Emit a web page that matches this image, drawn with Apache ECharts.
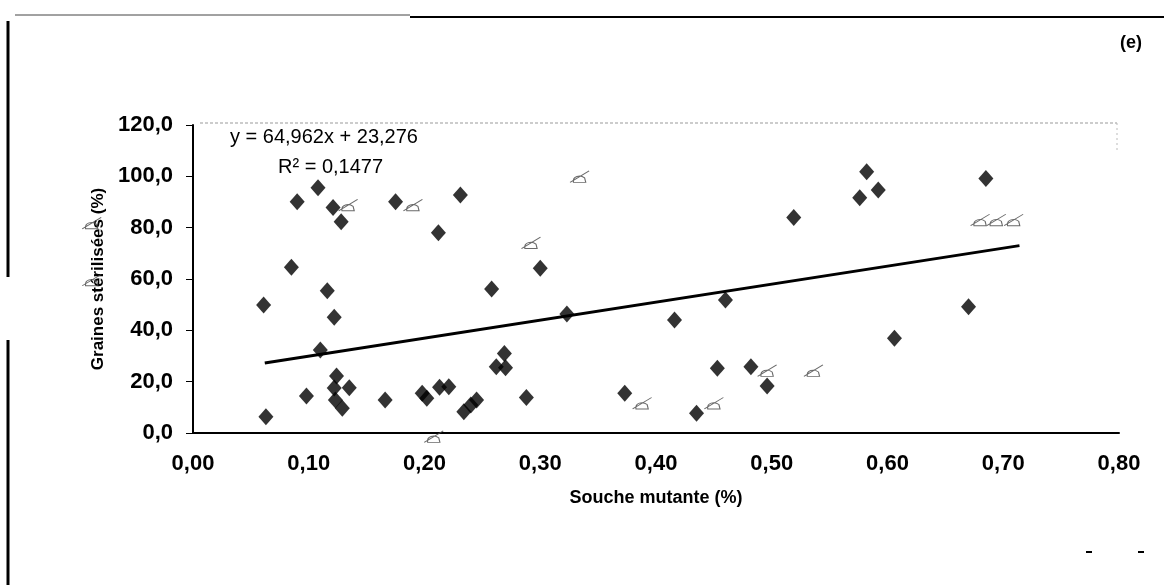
<!DOCTYPE html>
<html>
<head>
<meta charset="utf-8">
<script src="https://cdn.jsdelivr.net/npm/echarts@6/dist/echarts.min.js"></script>
<style>
html,body{margin:0;padding:0;background:#fff;}
#chart{width:1164px;height:585px;}
</style>
</head>
<body>
<div id="chart"></div>
<script>
// Souche mutante (%) vs Graines stérilisées (%)
const diamondX = [0.108,0.090,0.121,0.128,0.175,0.231,0.212,0.085,0.116,0.061,0.122,0.110,0.063,0.098,0.124,0.122,0.135,0.123,0.129,0.166,0.198,0.202,0.213,0.221,0.234,0.240,0.245,0.300,0.258,0.582,0.576,0.592,0.519,0.460,0.323,0.416,0.269,0.262,0.270,0.288,0.373,0.435,0.453,0.482,0.496,0.685,0.670,0.606];
const diamondY = [95.6,90.1,87.9,82.3,90.1,92.7,78.0,64.6,55.4,49.9,45.1,32.3,6.3,14.4,22.2,17.5,17.6,12.9,9.6,12.9,15.5,13.5,17.8,18.0,8.3,10.9,12.9,64.2,56.1,101.8,91.7,94.7,84.0,51.8,46.4,44.0,31.0,25.8,25.4,13.8,15.5,7.7,25.2,25.8,18.3,99.2,49.2,36.9];
const crossX = [0.134,0.190,0.334,0.292,0.208,0.388,0.450,0.496,0.536,0.680,0.694,0.709,-0.0875,-0.0875];
const crossY = [88.8,88.8,99.9,74.1,-1.4,11.6,11.6,24.3,24.3,83.0,83.0,83.0,81.8,59.6];
const trendX = [0.062,0.714];
const trendY = [27.3,73.0];
const xTickLabels = ['0,00','0,10','0,20','0,30','0,40','0,50','0,60','0,70','0,80'];
const yTickLabels = ['0,0','20,0','40,0','60,0','80,0','100,0','120,0'];
const equationText = 'y = 64,962x + 23,276';
const r2Text = 'R² = 0,1477';
const panelLabel = '(e)';

const zip = (a,b) => a.map((v,i)=>[v,b[i]]);
const FONT = 'Liberation Sans, Arial, sans-serif';

const chart = echarts.init(document.getElementById('chart'), null, {renderer:'canvas'});
chart.setOption({
  backgroundColor:'#fff',
  animation:false,
  grid:{left:193,right:45,top:125,bottom:152},
  xAxis:{
    type:'value',min:0,max:0.8,interval:0.1,
    name:'Souche mutante (%)',nameLocation:'middle',nameGap:56,
    nameTextStyle:{fontFamily:FONT,fontWeight:'bold',fontSize:18,color:'#000'},
    axisLine:{show:true,onZero:false,lineStyle:{color:'#000',width:2}},
    axisTick:{show:false},
    splitLine:{show:false},
    axisLabel:{fontFamily:FONT,fontSize:22,fontWeight:'bold',color:'#000',margin:20,
      formatter:(v)=>xTickLabels[Math.round(v*10)]}
  },
  yAxis:{
    type:'value',min:0,max:120,interval:20,
    name:'Graines stérilisées (%)',nameLocation:'middle',nameGap:86,nameRotate:90,
    nameTextStyle:{fontFamily:FONT,fontWeight:'bold',fontSize:17,color:'#000'},
    axisLine:{show:true,onZero:false,lineStyle:{color:'#000',width:2}},
    axisTick:{show:true,inside:false,length:7,lineStyle:{color:'#000',width:1}},
    splitLine:{show:false},
    axisLabel:{fontFamily:FONT,fontSize:22,fontWeight:'bold',color:'#000',margin:20,
      formatter:(v)=>yTickLabels[Math.round(v/20)]}
  },
  series:[
    {
      type:'line',data:zip(trendX,trendY),symbol:'none',
      lineStyle:{color:'#000',width:3},z:2
    },
    {
      type:'scatter',data:zip(diamondX,diamondY),symbol:'diamond',symbolSize:[15,17],
      itemStyle:{color:'#000'},z:3
    },
    {
      type:'scatter',data:zip(crossX,crossY),clip:false,
      symbol:'path://M0,13 L17,0 M3,13 C2,6 9,4 13,8 L14,13 Z',
      symbolSize:[19,15],symbolKeepAspect:true,
      itemStyle:{color:'rgba(0,0,0,0)',borderColor:'#444',borderWidth:1},z:3
    }
  ],
  graphic:[
    {type:'text',left:230,top:127,style:{text:equationText,font:'20px '+FONT,fill:'#000'}},
    {type:'text',left:278,top:157,style:{text:r2Text,font:'20px '+FONT,fill:'#000'}},
    {type:'text',left:1120,top:34,style:{text:panelLabel,font:'bold 18px '+FONT,fill:'#000'}},
    {type:'line',shape:{x1:410,y1:17,x2:1164,y2:17},style:{stroke:'#000',lineWidth:2}},
    {type:'line',shape:{x1:15,y1:15,x2:410,y2:15},style:{stroke:'#444',lineWidth:1}},
    {type:'line',shape:{x1:8,y1:21,x2:8,y2:277},style:{stroke:'#000',lineWidth:3}},
    {type:'line',shape:{x1:8,y1:340,x2:8,y2:585},style:{stroke:'#000',lineWidth:3}},
    {type:'line',shape:{x1:200,y1:123,x2:1117,y2:123},style:{stroke:'#999',lineWidth:1,lineDash:[3,2]}},
    {type:'line',shape:{x1:1117,y1:123,x2:1117,y2:150},style:{stroke:'#bbb',lineWidth:1,lineDash:[2,3]}},
    {type:'line',shape:{x1:1086,y1:552,x2:1092,y2:552},style:{stroke:'#000',lineWidth:2}},
    {type:'line',shape:{x1:1138,y1:552,x2:1144,y2:552},style:{stroke:'#000',lineWidth:2}}
  ]
});
</script>
</body>
</html>
